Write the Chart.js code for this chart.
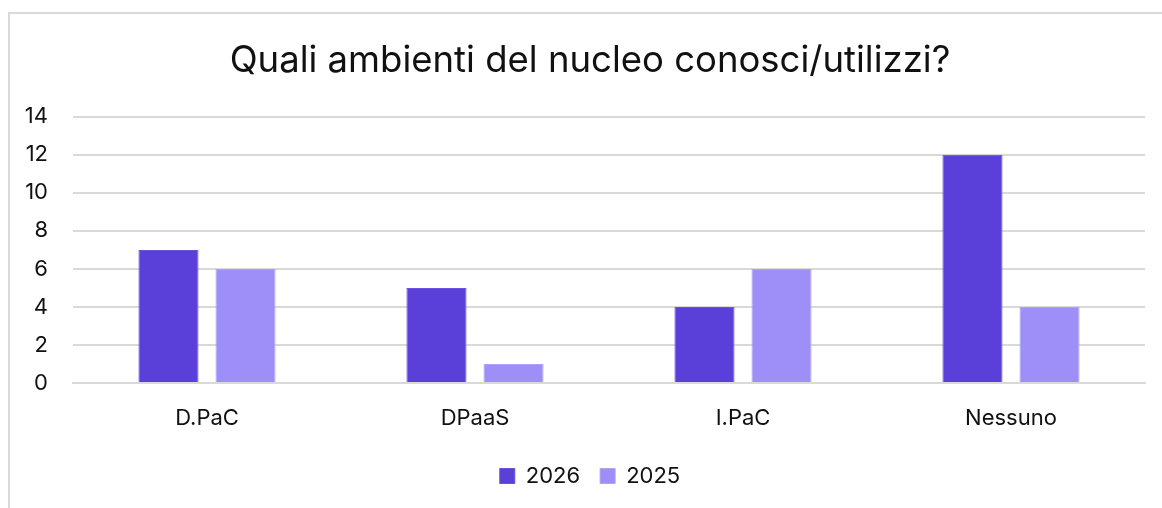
<!DOCTYPE html>
<html>
<head>
<meta charset="utf-8">
<script src="https://cdn.jsdelivr.net/npm/chart.js@4"></script>
<style>
  html, body { margin: 0; padding: 0; background: #fff; overflow: hidden; }
  #wrap {
    position: absolute; left: 8px; top: 12px; width: 1160px; height: 494px;
    border-top: 2px solid #d9d9d9; border-left: 2px solid #d9d9d9;
  }
  canvas { display: block; }
</style>
</head>
<body>
<div id="wrap"><canvas id="c" width="1160" height="494"></canvas></div>
<script>
const title = "Quali ambienti del nucleo conosci/utilizzi?";
const categories = ["D.PaC", "DPaaS", "I.PaC", "Nessuno"];
const seriesNames = ["2026", "2025"];
const values2026 = [7, 5, 4, 12];
const values2025 = [6, 1, 6, 4];
const yTicks = [0, 2, 4, 6, 8, 10, 12, 14];

const FONT = "Inter, 'Open Sans', sans-serif";
Chart.defaults.font.family = FONT;
Chart.defaults.color = "#111";

new Chart(document.getElementById("c"), {
  type: "bar",
  data: {
    labels: categories,
    datasets: [
      { label: seriesNames[0], data: values2026, backgroundColor: "#5a3fd8", borderColor: "#6a52de", borderWidth: 1 },
      { label: seriesNames[1], data: values2025, backgroundColor: "#9d8ff7", borderColor: "#ada1f8", borderWidth: 1 }
    ]
  },
  options: {
    responsive: false,
    animation: false,
    devicePixelRatio: 1,
    layout: { padding: { left: 0, right: 0, top: 0, bottom: 11 } },
    datasets: { bar: { categoryPercentage: 0.575, barPercentage: 0.78 } },
    plugins: {
      title: {
        display: true, text: title, color: "#111",
        font: { size: 36.5, weight: "normal", family: FONT },
        padding: { top: 25, bottom: 34 }
      },
      legend: {
        position: "bottom",
        labels: { boxWidth: 15, boxHeight: 15, padding: 20, font: { size: 22 }, color: "#111" }
      },
      tooltip: { enabled: false }
    },
    scales: {
      x: {
        grid: { display: false, drawTicks: false },
        border: { display: true, color: "#d9d9d9", width: 2 },
        ticks: { font: { size: 22 }, padding: 22, color: "#111" },
        afterFit: (axis) => { axis.height = 62; }
      },
      y: {
        min: 0, max: 14,
        afterBuildTicks: (axis) => { axis.ticks = yTicks.map(v => ({ value: v })); },
        grid: { color: "#d9d9d9", lineWidth: 2, drawTicks: false },
        border: { display: false },
        ticks: { font: { size: 22 }, padding: 25, color: "#111" },
        afterFit: (axis) => { axis.width = 63; }
      },
      yRight: {
        position: "right",
        min: 0, max: 14,
        grid: { display: false, drawTicks: false },
        border: { display: false },
        ticks: { display: false },
        afterFit: (axis) => { axis.width = 25; }
      }
    }
  }
});
</script>
</body>
</html>
